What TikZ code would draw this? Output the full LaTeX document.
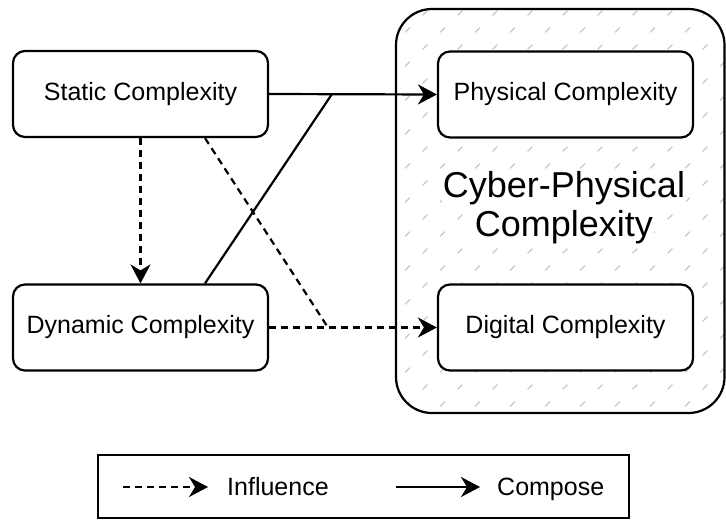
\documentclass[tikz,border=0pt]{standalone}
\usepackage{fontspec}
\setmainfont{Liberation Sans}
\usetikzlibrary{arrows.meta}
\begin{document}
\begin{tikzpicture}[x=1pt,y=-1pt,
  box/.style={draw, line width=2.2pt, rounded corners=12pt, fill=white,
    minimum width=255pt, minimum height=86pt, inner sep=0pt,
    font=\fontsize{25}{30}\selectfont},
  conn/.style={line width=2.2pt, -{Stealth[length=19pt,width=20pt,inset=6pt]}},
  compose/.style={conn},
  influence/.style={conn, dash pattern=on 7pt off 5pt},
  plainline/.style={line width=2.2pt},
  plaindash/.style={line width=2.2pt, dash pattern=on 7pt off 5pt},
  hatch/.style={black!22, line width=1.1pt, line cap=round},
  bigtext/.style={fill=white, inner xsep=1pt, inner ysep=2pt, anchor=base,
    font=\fontsize{36}{40}\selectfont},
  legtext/.style={inner sep=0pt, anchor=base west, font=\fontsize{25}{30}\selectfont}]
\useasboundingbox (0,0) rectangle (726,520);

% container with hatch
\begin{scope}
  \clip[rounded corners=36pt] (396,9) rectangle (724.5,413);
  \foreach \j in {0,...,23} {
    \foreach \i in {-9,...,13} {
      \draw[hatch] ({670-17.5*\j+35*\i-2.2},{13+17*\j+2.2}) -- ++(4.4,-4.4);
    }
  }
\end{scope}
\draw[line width=2.2pt, rounded corners=36pt] (396,9) rectangle (724.5,413);

\node[bigtext] (cp1) at (564,197) {Cyber-Physical};
\node[bigtext] (cp2) at (564,236) {Complexity};

% nodes
\node[box] (static) at (140.5,94) {Static Complexity};
\node[box] (dyn) at (140.5,327.5) {Dynamic Complexity};
\node[box] (phys) at (565.5,94.5) {Physical Complexity};
\node[box] (dig) at (565.5,327.5) {Digital Complexity};

% helper coordinates
\coordinate (sx) at (205,0);
\coordinate (j1) at (332,94);
\coordinate (j2) at (328,327.5);

% connectors
\draw[compose] (static.east) -- (phys.west);
\draw[plainline] (dyn.north -| sx) -- (j1);
\draw[influence] (static.south) -- (dyn.north);
\draw[plaindash] (static.south -| sx) -- (j2);
\draw[influence] (dyn.east) -- (dig.west);

% legend
\node[draw, line width=2.2pt, minimum width=531pt, minimum height=63pt, inner sep=0pt] (legend) at (363.5,486.5) {};
\coordinate (l1s) at (123,487);
\coordinate (l1e) at (208,487);
\coordinate (l2s) at (396,487);
\coordinate (l2e) at (480,487);
\draw[influence] (l1s) -- (l1e);
\draw[compose] (l2s) -- (l2e);
\node[legtext] (linf) at (227,495) {Influence};
\node[legtext] (lcomp) at (497,495) {Compose};
\end{tikzpicture}
\end{document}
